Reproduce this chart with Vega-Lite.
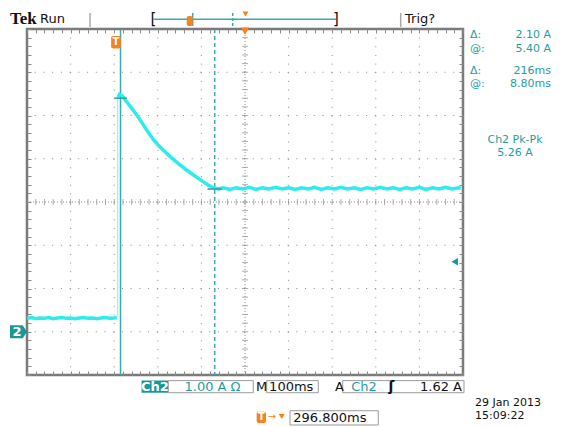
{
  "$schema": "https://vega.github.io/schema/vega-lite/v6.json",
  "width": 436,
  "height": 346,
  "autosize": "none",
  "padding": {"left": 27, "top": 29, "right": 105, "bottom": 52},
  "background": "white",
  "config": {
    "view": {"stroke": "#7a7a7a", "strokeWidth": 2.5},
    "text": {"font": "DejaVu Sans", "fontSize": 13}
  },
  "datasets": {
    "pre": [
      {"t": 0, "I": 0.31}, {"t": 10, "I": 0.33}, {"t": 20, "I": 0.3}, {"t": 30, "I": 0.32},
      {"t": 40, "I": 0.31}, {"t": 50, "I": 0.33}, {"t": 60, "I": 0.3}, {"t": 70, "I": 0.32},
      {"t": 80, "I": 0.33}, {"t": 90, "I": 0.31}, {"t": 100, "I": 0.32}, {"t": 110, "I": 0.3},
      {"t": 120, "I": 0.32}, {"t": 130, "I": 0.33}, {"t": 140, "I": 0.31}, {"t": 150, "I": 0.32},
      {"t": 160, "I": 0.3}, {"t": 170, "I": 0.32}, {"t": 180, "I": 0.33}, {"t": 190, "I": 0.31},
      {"t": 200, "I": 0.32}, {"t": 206, "I": 0.33}
    ],
    "post": [
      {"t": 209, "I": 5.42}, {"t": 212, "I": 5.49}, {"t": 218, "I": 5.46}, {"t": 230, "I": 5.3},
      {"t": 244, "I": 5.12}, {"t": 256, "I": 4.95}, {"t": 267, "I": 4.78}, {"t": 278, "I": 4.61},
      {"t": 290, "I": 4.44}, {"t": 305, "I": 4.27}, {"t": 320, "I": 4.13}, {"t": 335, "I": 3.99},
      {"t": 351, "I": 3.86}, {"t": 366, "I": 3.74}, {"t": 381, "I": 3.63}, {"t": 393, "I": 3.55},
      {"t": 404, "I": 3.47}, {"t": 416, "I": 3.39}, {"t": 427, "I": 3.33}, {"t": 438, "I": 3.3},
      {"t": 450, "I": 3.33}, {"t": 465, "I": 3.29}, {"t": 480, "I": 3.33}, {"t": 495, "I": 3.3},
      {"t": 510, "I": 3.34}, {"t": 525, "I": 3.29}, {"t": 540, "I": 3.33}, {"t": 555, "I": 3.3},
      {"t": 570, "I": 3.34}, {"t": 585, "I": 3.3}, {"t": 600, "I": 3.33}, {"t": 615, "I": 3.29},
      {"t": 630, "I": 3.33}, {"t": 645, "I": 3.3}, {"t": 660, "I": 3.34}, {"t": 675, "I": 3.29},
      {"t": 690, "I": 3.33}, {"t": 705, "I": 3.3}, {"t": 720, "I": 3.34}, {"t": 735, "I": 3.3},
      {"t": 750, "I": 3.33}, {"t": 765, "I": 3.29}, {"t": 780, "I": 3.33}, {"t": 795, "I": 3.3},
      {"t": 810, "I": 3.34}, {"t": 825, "I": 3.3}, {"t": 840, "I": 3.33}, {"t": 855, "I": 3.29},
      {"t": 870, "I": 3.33}, {"t": 885, "I": 3.3}, {"t": 900, "I": 3.34}, {"t": 915, "I": 3.29},
      {"t": 930, "I": 3.33}, {"t": 945, "I": 3.3}, {"t": 960, "I": 3.34}, {"t": 975, "I": 3.3},
      {"t": 990, "I": 3.33}, {"t": 995, "I": 3.32}
    ],
    "tx": [
      {"t": 0}, {"t": 20}, {"t": 40}, {"t": 60}, {"t": 80}, {"t": 100}, {"t": 120}, {"t": 140}, {"t": 160}, {"t": 180},
      {"t": 200}, {"t": 220}, {"t": 240}, {"t": 260}, {"t": 280}, {"t": 300}, {"t": 320}, {"t": 340}, {"t": 360}, {"t": 380},
      {"t": 400}, {"t": 420}, {"t": 440}, {"t": 460}, {"t": 480}, {"t": 500}, {"t": 520}, {"t": 540}, {"t": 560}, {"t": 580},
      {"t": 600}, {"t": 620}, {"t": 640}, {"t": 660}, {"t": 680}, {"t": 700}, {"t": 720}, {"t": 740}, {"t": 760}, {"t": 780},
      {"t": 800}, {"t": 820}, {"t": 840}, {"t": 860}, {"t": 880}, {"t": 900}, {"t": 920}, {"t": 940}, {"t": 960}, {"t": 980},
      {"t": 1000}
    ],
    "ty": [
      {"I": -1}, {"I": -0.8}, {"I": -0.6}, {"I": -0.4}, {"I": -0.2}, {"I": 0}, {"I": 0.2}, {"I": 0.4}, {"I": 0.6}, {"I": 0.8},
      {"I": 1}, {"I": 1.2}, {"I": 1.4}, {"I": 1.6}, {"I": 1.8}, {"I": 2}, {"I": 2.2}, {"I": 2.4}, {"I": 2.6}, {"I": 2.8},
      {"I": 3}, {"I": 3.2}, {"I": 3.4}, {"I": 3.6}, {"I": 3.8}, {"I": 4}, {"I": 4.2}, {"I": 4.4}, {"I": 4.6}, {"I": 4.8},
      {"I": 5}, {"I": 5.2}, {"I": 5.4}, {"I": 5.6}, {"I": 5.8}, {"I": 6}, {"I": 6.2}, {"I": 6.4}, {"I": 6.6}, {"I": 6.8},
      {"I": 7}
    ]
  },
  "layer": [
    {
      "data": {"values": [{"t": 100}, {"t": 200}, {"t": 300}, {"t": 400}, {"t": 600}, {"t": 700}, {"t": 800}, {"t": 900}]},
      "mark": {"type": "rule", "color": "#8a8a8a", "strokeWidth": 1, "strokeDash": [1, 7.65]},
      "encoding": {
        "x": {"field": "t", "type": "quantitative", "scale": {"domain": [0, 1000], "nice": false, "zero": false},
          "axis": {"orient": "bottom", "tickCount": 50, "tickSize": -4, "tickColor": "#8a8a8a", "labels": false, "domain": false, "grid": false, "title": null}}
      }
    },
    {
      "data": {"values": [{"I": 0}, {"I": 1}, {"I": 2}, {"I": 4}, {"I": 5}, {"I": 6}]},
      "mark": {"type": "rule", "color": "#8a8a8a", "strokeWidth": 1, "strokeDash": [1, 7.72]},
      "encoding": {
        "y": {"field": "I", "type": "quantitative", "scale": {"domain": [-1, 7], "nice": false, "zero": false},
          "axis": {"orient": "left", "tickCount": 40, "tickSize": -4, "tickColor": "#8a8a8a", "labels": false, "domain": false, "grid": false, "title": null}}
      }
    },
    {
      "data": {"values": [{"I": 3}]},
      "mark": {"type": "rule", "color": "#8a8a8a", "strokeWidth": 1, "strokeDash": [1, 2]},
      "encoding": {
        "y": {"field": "I", "type": "quantitative", "scale": {"domain": [-1, 7], "nice": false, "zero": false}, "axis": null}
      }
    },
    {
      "data": {"values": [{"t": 500}]},
      "mark": {"type": "rule", "color": "#8a8a8a", "strokeWidth": 1, "strokeDash": [1, 2]},
      "encoding": {
        "x": {"field": "t", "type": "quantitative", "scale": {"domain": [0, 1000], "nice": false, "zero": false}, "axis": null}
      }
    },
    {
      "data": {"name": "tx"},
      "mark": {"type": "tick", "orient": "vertical", "size": 6, "thickness": 1, "color": "#8a8a8a"},
      "encoding": {
        "x": {"field": "t", "type": "quantitative", "scale": {"domain": [0, 1000], "nice": false, "zero": false},
          "axis": {"orient": "top", "tickCount": 50, "tickSize": -4, "tickColor": "#8a8a8a", "labels": false, "domain": false, "grid": false, "title": null}},
        "y": {"datum": 3, "type": "quantitative", "scale": {"domain": [-1, 7], "nice": false, "zero": false}, "axis": null}
      }
    },
    {
      "data": {"name": "ty"},
      "mark": {"type": "tick", "orient": "horizontal", "size": 6, "thickness": 1, "color": "#8a8a8a"},
      "encoding": {
        "y": {"field": "I", "type": "quantitative", "scale": {"domain": [-1, 7], "nice": false, "zero": false},
          "axis": {"orient": "right", "tickCount": 40, "tickSize": -4, "tickColor": "#8a8a8a", "labels": false, "domain": false, "grid": false, "title": null}},
        "x": {"datum": 500, "type": "quantitative", "scale": {"domain": [0, 1000], "nice": false, "zero": false}, "axis": null}
      }
    },
    {
      "data": {"values": [{"t": 214.5}]},
      "mark": {"type": "rule", "color": "#3aaab2", "strokeWidth": 1.5},
      "encoding": {
        "x": {"field": "t", "type": "quantitative", "scale": {"domain": [0, 1000], "nice": false, "zero": false}, "axis": null}
      }
    },
    {
      "data": {"values": [{"t": 430.5}]},
      "mark": {"type": "rule", "color": "#3aaab2", "strokeWidth": 1.5, "strokeDash": [4, 3]},
      "encoding": {
        "x": {"field": "t", "type": "quantitative", "scale": {"domain": [0, 1000], "nice": false, "zero": false}, "axis": null}
      }
    },
    {
      "data": {"name": "pre"},
      "mark": {"type": "line", "color": "#2fecec", "strokeWidth": 3.5},
      "encoding": {
        "x": {"field": "t", "type": "quantitative", "scale": {"domain": [0, 1000], "nice": false, "zero": false}, "axis": null},
        "y": {"field": "I", "type": "quantitative", "scale": {"domain": [-1, 7], "nice": false, "zero": false}, "axis": null}
      }
    },
    {
      "data": {"values": [{"t": 208, "I": 0.33, "I2": 5.45}]},
      "mark": {"type": "rule", "color": "#8af4f4", "strokeWidth": 1.2},
      "encoding": {
        "x": {"field": "t", "type": "quantitative", "scale": {"domain": [0, 1000], "nice": false, "zero": false}, "axis": null},
        "y": {"field": "I", "type": "quantitative", "scale": {"domain": [-1, 7], "nice": false, "zero": false}, "axis": null},
        "y2": {"field": "I2"}
      }
    },
    {
      "data": {"name": "post"},
      "mark": {"type": "line", "color": "#2fecec", "strokeWidth": 3.5},
      "encoding": {
        "x": {"field": "t", "type": "quantitative", "scale": {"domain": [0, 1000], "nice": false, "zero": false}, "axis": null},
        "y": {"field": "I", "type": "quantitative", "scale": {"domain": [-1, 7], "nice": false, "zero": false}, "axis": null}
      }
    },
    {
      "data": {"values": [{"t": 200, "t2": 229, "I": 5.4}, {"t": 414, "t2": 447, "I": 3.3}]},
      "mark": {"type": "rule", "color": "#2f9ea6", "strokeWidth": 1.5},
      "encoding": {
        "x": {"field": "t", "type": "quantitative", "scale": {"domain": [0, 1000], "nice": false, "zero": false}, "axis": null},
        "x2": {"field": "t2"},
        "y": {"field": "I", "type": "quantitative", "scale": {"domain": [-1, 7], "nice": false, "zero": false}, "axis": null}
      }
    },
    {
      "data": {"values": [{"t": 144.5, "I": 7.37, "I2": 7.046}, {"t": 857.1, "I": 7.37, "I2": 7.046}]},
      "mark": {"type": "rule", "color": "#aaaaaa", "strokeWidth": 1.5},
      "encoding": {
        "x": {"field": "t", "type": "quantitative", "scale": {"domain": [0, 1000], "nice": false, "zero": false}, "axis": null},
        "y": {"field": "I", "type": "quantitative", "scale": {"domain": [-1, 7], "nice": false, "zero": false}, "axis": null},
        "y2": {"field": "I2"}
      }
    },
    {
      "data": {"values": [{"t": 290, "t2": 708.7, "I": 7.224}]},
      "mark": {"type": "rule", "color": "#3aaab2", "strokeWidth": 1.5},
      "encoding": {
        "x": {"field": "t", "type": "quantitative", "scale": {"domain": [0, 1000], "nice": false, "zero": false}, "axis": null},
        "x2": {"field": "t2"},
        "y": {"field": "I", "type": "quantitative", "scale": {"domain": [-1, 7], "nice": false, "zero": false}, "axis": null}
      }
    },
    {
      "data": {"values": [{"t": 380, "I": 7.37, "I2": 7.07}]},
      "mark": {"type": "rule", "color": "#3aaab2", "strokeWidth": 1.5},
      "encoding": {
        "x": {"field": "t", "type": "quantitative", "scale": {"domain": [0, 1000], "nice": false, "zero": false}, "axis": null},
        "y": {"field": "I", "type": "quantitative", "scale": {"domain": [-1, 7], "nice": false, "zero": false}, "axis": null},
        "y2": {"field": "I2"}
      }
    },
    {
      "data": {"values": [{"t": 471.8, "I": 7.37, "I2": 7.07}]},
      "mark": {"type": "rule", "color": "#3aaab2", "strokeWidth": 1.5, "strokeDash": [3, 2]},
      "encoding": {
        "x": {"field": "t", "type": "quantitative", "scale": {"domain": [0, 1000], "nice": false, "zero": false}, "axis": null},
        "y": {"field": "I", "type": "quantitative", "scale": {"domain": [-1, 7], "nice": false, "zero": false}, "axis": null},
        "y2": {"field": "I2"}
      }
    },
    {
      "data": {"values": [
        {"t": 262.8, "t2": 323.9, "I": -1.13, "I2": -1.41}
      ]},
      "mark": {"type": "rect", "color": "#1a9898"},
      "encoding": {
        "x": {"field": "t", "type": "quantitative", "scale": {"domain": [0, 1000], "nice": false, "zero": false}, "axis": null},
        "x2": {"field": "t2"},
        "y": {"field": "I", "type": "quantitative", "scale": {"domain": [-1, 7], "nice": false, "zero": false}, "axis": null},
        "y2": {"field": "I2"}
      }
    },
    {
      "data": {"values": [
        {"t": 324.1, "t2": 519, "I": -1.13, "I2": -1.41},
        {"t": 549.8, "t2": 668.1, "I": -1.13, "I2": -1.41},
        {"t": 724.1, "t2": 1002.3, "I": -1.13, "I2": -1.41},
        {"t": 603.2, "t2": 805.7, "I": -1.826, "I2": -2.156}
      ]},
      "mark": {"type": "rect", "fill": "white", "stroke": "#9a9a9a", "strokeWidth": 1},
      "encoding": {
        "x": {"field": "t", "type": "quantitative", "scale": {"domain": [0, 1000], "nice": false, "zero": false}, "axis": null},
        "x2": {"field": "t2"},
        "y": {"field": "I", "type": "quantitative", "scale": {"domain": [-1, 7], "nice": false, "zero": false}, "axis": null},
        "y2": {"field": "I2"}
      }
    },
    {
      "data": {"values": [
        {"t": 193, "t2": 215, "I": 6.84, "I2": 6.55},
        {"t": 366.3, "t2": 380, "I": 7.3, "I2": 7.07},
        {"t": 526.8, "t2": 548.2, "I": -1.849, "I2": -2.11}
      ]},
      "mark": {"type": "rect", "color": "#f5821f", "cornerRadius": 2},
      "encoding": {
        "x": {"field": "t", "type": "quantitative", "scale": {"domain": [0, 1000], "nice": false, "zero": false}, "axis": null},
        "x2": {"field": "t2"},
        "y": {"field": "I", "type": "quantitative", "scale": {"domain": [-1, 7], "nice": false, "zero": false}, "axis": null},
        "y2": {"field": "I2"}
      }
    },
    {
      "data": {"values": [{"t": 500, "I": 6.95}]},
      "mark": {"type": "point", "shape": "triangle-down", "size": 70, "filled": true, "color": "#f5821f", "opacity": 1},
      "encoding": {
        "x": {"field": "t", "type": "quantitative", "scale": {"domain": [0, 1000], "nice": false, "zero": false}, "axis": null},
        "y": {"field": "I", "type": "quantitative", "scale": {"domain": [-1, 7], "nice": false, "zero": false}, "axis": null}
      }
    },
    {
      "data": {"values": [{"t": 501.1, "I": 7.347}, {"t": 584.2, "I": -1.96}]},
      "mark": {"type": "point", "shape": "triangle-down", "size": 35, "filled": true, "color": "#f5821f", "opacity": 1},
      "encoding": {
        "x": {"field": "t", "type": "quantitative", "scale": {"domain": [0, 1000], "nice": false, "zero": false}, "axis": null},
        "y": {"field": "I", "type": "quantitative", "scale": {"domain": [-1, 7], "nice": false, "zero": false}, "axis": null}
      }
    },
    {
      "data": {"values": [{"t": 981, "I": 1.62}]},
      "mark": {"type": "point", "shape": "triangle-left", "size": 55, "filled": true, "color": "#1a9898", "opacity": 1},
      "encoding": {
        "x": {"field": "t", "type": "quantitative", "scale": {"domain": [0, 1000], "nice": false, "zero": false}, "axis": null},
        "y": {"field": "I", "type": "quantitative", "scale": {"domain": [-1, 7], "nice": false, "zero": false}, "axis": null}
      }
    },
    {
      "data": {"values": [{"t": -19.5, "I": 0}]},
      "mark": {"type": "point", "shape": "M-1,-0.76L0.5,-0.76L1,0L0.5,0.76L-1,0.76Z", "size": 289, "filled": true, "color": "#1a9898", "opacity": 1},
      "encoding": {
        "x": {"field": "t", "type": "quantitative", "scale": {"domain": [0, 1000], "nice": false, "zero": false}, "axis": null},
        "y": {"field": "I", "type": "quantitative", "scale": {"domain": [-1, 7], "nice": false, "zero": false}, "axis": null}
      }
    },
    {
      "data": {"values": [
        {"t": -39, "I": 7.231, "txt": "Tek"}
      ]},
      "mark": {"type": "text", "font": "Liberation Serif", "fontSize": 17, "fontWeight": "bold", "align": "left", "baseline": "middle", "color": "#111"},
      "encoding": {
        "x": {"field": "t", "type": "quantitative", "scale": {"domain": [0, 1000], "nice": false, "zero": false}, "axis": null},
        "y": {"field": "I", "type": "quantitative", "scale": {"domain": [-1, 7], "nice": false, "zero": false}, "axis": null},
        "text": {"field": "txt"}
      }
    },
    {
      "data": {"values": [
        {"t": 29.8, "I": 7.231, "txt": "Run"},
        {"t": 867, "I": 7.231, "txt": "Trig?"},
        {"t": 525.2, "I": -1.277, "txt": "M"},
        {"t": 555.3, "I": -1.277, "txt": "100ms"},
        {"t": 706.4, "I": -1.277, "txt": "A"},
        {"t": 610.8, "I": -1.99, "txt": "296.800ms"}
      ]},
      "mark": {"type": "text", "align": "left", "baseline": "middle", "color": "#111"},
      "encoding": {
        "x": {"field": "t", "type": "quantitative", "scale": {"domain": [0, 1000], "nice": false, "zero": false}, "axis": null},
        "y": {"field": "I", "type": "quantitative", "scale": {"domain": [-1, 7], "nice": false, "zero": false}, "axis": null},
        "text": {"field": "txt"}
      }
    },
    {
      "data": {"values": [
        {"t": 1027.5, "I": -1.645, "txt": "29 Jan  2013"},
        {"t": 1027.5, "I": -1.955, "txt": "15:09:22"}
      ]},
      "mark": {"type": "text", "align": "left", "baseline": "middle", "color": "#111", "fontSize": 11},
      "encoding": {
        "x": {"field": "t", "type": "quantitative", "scale": {"domain": [0, 1000], "nice": false, "zero": false}, "axis": null},
        "y": {"field": "I", "type": "quantitative", "scale": {"domain": [-1, 7], "nice": false, "zero": false}, "axis": null},
        "text": {"field": "txt"}
      }
    },
    {
      "data": {"values": [
        {"t": 997.7, "I": -1.277, "txt": "1.62 A"}
      ]},
      "mark": {"type": "text", "align": "right", "baseline": "middle", "color": "#111"},
      "encoding": {
        "x": {"field": "t", "type": "quantitative", "scale": {"domain": [0, 1000], "nice": false, "zero": false}, "axis": null},
        "y": {"field": "I", "type": "quantitative", "scale": {"domain": [-1, 7], "nice": false, "zero": false}, "axis": null},
        "text": {"field": "txt"}
      }
    },
    {
      "data": {"values": [
        {"t": 836, "I": -1.277, "txt": "ʃ"}
      ]},
      "mark": {"type": "text", "align": "center", "baseline": "middle", "color": "#111", "fontWeight": "bold", "fontSize": 14},
      "encoding": {
        "x": {"field": "t", "type": "quantitative", "scale": {"domain": [0, 1000], "nice": false, "zero": false}, "axis": null},
        "y": {"field": "I", "type": "quantitative", "scale": {"domain": [-1, 7], "nice": false, "zero": false}, "axis": null},
        "text": {"field": "txt"}
      }
    },
    {
      "data": {"values": [
        {"t": 290, "I": 7.231, "txt": "["},
        {"t": 708.7, "I": 7.231, "txt": "]"}
      ]},
      "mark": {"type": "text", "align": "center", "baseline": "middle", "color": "#111", "fontSize": 15},
      "encoding": {
        "x": {"field": "t", "type": "quantitative", "scale": {"domain": [0, 1000], "nice": false, "zero": false}, "axis": null},
        "y": {"field": "I", "type": "quantitative", "scale": {"domain": [-1, 7], "nice": false, "zero": false}, "axis": null},
        "text": {"field": "txt"}
      }
    },
    {
      "data": {"values": [
        {"t": 1016, "I": 6.85, "txt": "Δ:"},
        {"t": 1016, "I": 6.542, "txt": "@:"},
        {"t": 1016, "I": 6.04, "txt": "Δ:"},
        {"t": 1016, "I": 5.733, "txt": "@:"}
      ]},
      "mark": {"type": "text", "align": "left", "baseline": "middle", "color": "#1e9ea0", "fontSize": 11},
      "encoding": {
        "x": {"field": "t", "type": "quantitative", "scale": {"domain": [0, 1000], "nice": false, "zero": false}, "axis": null},
        "y": {"field": "I", "type": "quantitative", "scale": {"domain": [-1, 7], "nice": false, "zero": false}, "axis": null},
        "text": {"field": "txt"}
      }
    },
    {
      "data": {"values": [
        {"t": 1201.8, "I": 6.85, "txt": "2.10 A"},
        {"t": 1201.8, "I": 6.542, "txt": "5.40 A"},
        {"t": 1201.8, "I": 6.04, "txt": "216ms"},
        {"t": 1201.8, "I": 5.733, "txt": "8.80ms"}
      ]},
      "mark": {"type": "text", "align": "right", "baseline": "middle", "color": "#1e9ea0", "fontSize": 11},
      "encoding": {
        "x": {"field": "t", "type": "quantitative", "scale": {"domain": [0, 1000], "nice": false, "zero": false}, "axis": null},
        "y": {"field": "I", "type": "quantitative", "scale": {"domain": [-1, 7], "nice": false, "zero": false}, "axis": null},
        "text": {"field": "txt"}
      }
    },
    {
      "data": {"values": [
        {"t": 1119.3, "I": 4.434, "txt": "Ch2 Pk-Pk"},
        {"t": 1119.3, "I": 4.126, "txt": "5.26 A"}
      ]},
      "mark": {"type": "text", "align": "center", "baseline": "middle", "color": "#1e9ea0", "fontSize": 11},
      "encoding": {
        "x": {"field": "t", "type": "quantitative", "scale": {"domain": [0, 1000], "nice": false, "zero": false}, "axis": null},
        "y": {"field": "I", "type": "quantitative", "scale": {"domain": [-1, 7], "nice": false, "zero": false}, "axis": null},
        "text": {"field": "txt"}
      }
    },
    {
      "data": {"values": [
        {"t": 425.5, "I": -1.277, "txt": "1.00 A Ω"},
        {"t": 773, "I": -1.277, "txt": "Ch2"}
      ]},
      "mark": {"type": "text", "align": "center", "baseline": "middle", "color": "#1e9ea0"},
      "encoding": {
        "x": {"field": "t", "type": "quantitative", "scale": {"domain": [0, 1000], "nice": false, "zero": false}, "axis": null},
        "y": {"field": "I", "type": "quantitative", "scale": {"domain": [-1, 7], "nice": false, "zero": false}, "axis": null},
        "text": {"field": "txt"}
      }
    },
    {
      "data": {"values": [
        {"t": 293.4, "I": -1.277, "txt": "Ch2"},
        {"t": -22.9, "I": 0, "txt": "2"}
      ]},
      "mark": {"type": "text", "align": "center", "baseline": "middle", "color": "white", "fontWeight": "bold"},
      "encoding": {
        "x": {"field": "t", "type": "quantitative", "scale": {"domain": [0, 1000], "nice": false, "zero": false}, "axis": null},
        "y": {"field": "I", "type": "quantitative", "scale": {"domain": [-1, 7], "nice": false, "zero": false}, "axis": null},
        "text": {"field": "txt"}
      }
    },
    {
      "data": {"values": [
        {"t": 204, "I": 6.695, "txt": "T"},
        {"t": 537.5, "I": -1.979, "txt": "T"}
      ]},
      "mark": {"type": "text", "align": "center", "baseline": "middle", "color": "white", "fontWeight": "bold", "fontSize": 10},
      "encoding": {
        "x": {"field": "t", "type": "quantitative", "scale": {"domain": [0, 1000], "nice": false, "zero": false}, "axis": null},
        "y": {"field": "I", "type": "quantitative", "scale": {"domain": [-1, 7], "nice": false, "zero": false}, "axis": null},
        "text": {"field": "txt"}
      }
    },
    {
      "data": {"values": [
        {"t": 562, "I": -1.975, "txt": "→"}
      ]},
      "mark": {"type": "text", "align": "center", "baseline": "middle", "color": "#f5821f", "fontSize": 10},
      "encoding": {
        "x": {"field": "t", "type": "quantitative", "scale": {"domain": [0, 1000], "nice": false, "zero": false}, "axis": null},
        "y": {"field": "I", "type": "quantitative", "scale": {"domain": [-1, 7], "nice": false, "zero": false}, "axis": null},
        "text": {"field": "txt"}
      }
    }
  ],
  "resolve": {"axis": {"x": "independent", "y": "independent"}}
}
